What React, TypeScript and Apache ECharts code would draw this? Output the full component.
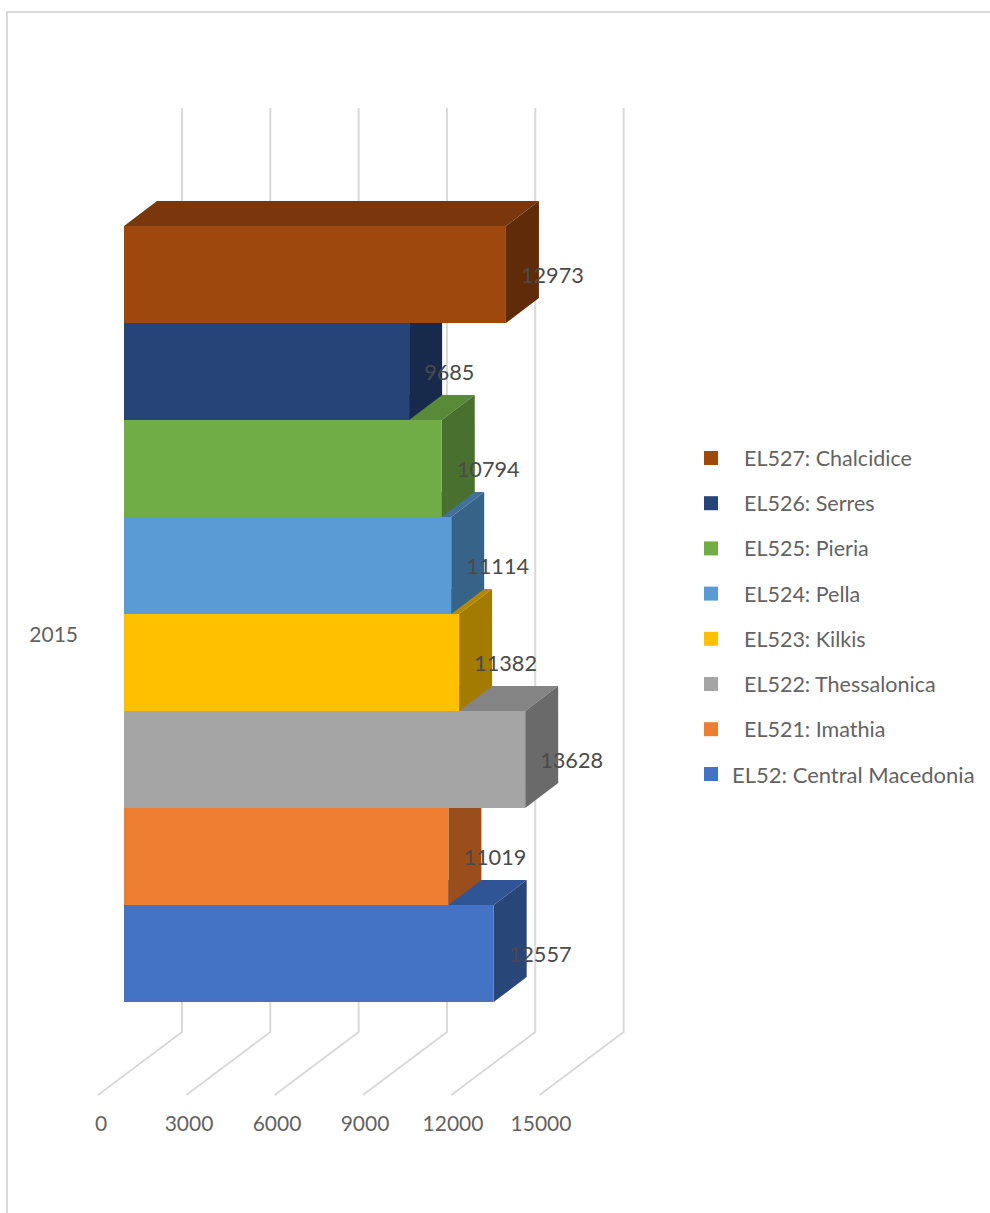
import React, { useEffect, useRef } from "react";
import * as echarts from "echarts";

const years = ["2015"];
const regions = [
  "EL52: Central Macedonia",
  "EL521: Imathia",
  "EL522: Thessalonica",
  "EL523: Kilkis",
  "EL524: Pella",
  "EL525: Pieria",
  "EL526: Serres",
  "EL527: Chalcidice",
];
const values = [12557, 11019, 13628, 11382, 11114, 10794, 9685, 12973];
const frontColors = ["#4472C4", "#ED7D31", "#A5A5A5", "#FFC000", "#5B9BD5", "#70AD47", "#264478", "#9E480E"];
const topColors = ["#2F5597", "#A9561F", "#848484", "#B48800", "#41719C", "#588A38", "#1E3660", "#7A370B"];
const sideColors = ["#294679", "#9A4E1C", "#6A6A6A", "#A27B00", "#376388", "#4A702F", "#172A4B", "#5F2B08"];
const ticks = [0, 3000, 6000, 9000, 12000, 15000];

const FONT = "Lato";
const DX = 33;
const DY = -25;

export default function App() {
  const ref = useRef<HTMLDivElement>(null);
  useEffect(() => {
    const chart = echarts.init(ref.current!, undefined, { renderer: "svg" });

    const barSeries = regions.map((name, i) => ({
      type: "custom",
      name,
      xAxisIndex: 0,
      yAxisIndex: 0,
      z: 3,
      clip: false,
      itemStyle: { color: frontColors[i] },
      encode: { x: 0, y: 1 },
      data: [[values[i], regions[i]]],
      renderItem: (_p: any, api: any) => {
        const v = api.value(0);
        const end = api.coord([v, i]);
        const start = api.coord([0, i]);
        const h = api.size([0, 1])[1];
        const x0 = start[0];
        const x1 = end[0];
        const yT = end[1] - h / 2;
        const yB = end[1] + h / 2;
        return {
          type: "group",
          children: [
            {
              type: "polygon",
              z2: 1,
              shape: { points: [[x0, yT], [x1, yT], [x1 + DX, yT + DY], [x0 + DX, yT + DY]] },
              style: { fill: topColors[i] },
            },
            {
              type: "polygon",
              z2: 1,
              shape: { points: [[x1, yT], [x1 + DX, yT + DY], [x1 + DX, yB + DY], [x1, yB]] },
              style: { fill: sideColors[i] },
            },
            {
              type: "rect",
              z2: 1,
              shape: { x: x0, y: yT, width: x1 - x0, height: h },
              style: { fill: frontColors[i] },
            },
            {
              type: "text",
              z2: 100,
              x: x1 + 15,
              y: end[1] + 0.5,
              style: {
                text: String(v),
                fill: "#4A4A4A",
                font: `21.7px ${FONT}`,
                align: "left",
                verticalAlign: "middle",
              },
            },
          ],
        };
      },
    }));

    const gridSeries = {
      type: "custom",
      name: "grid",
      xAxisIndex: 0,
      yAxisIndex: 0,
      z: 1,
      clip: false,
      silent: true,
      encode: { x: 0 },
      data: ticks.map((t) => [t, regions[0]]),
      renderItem: (_p: any, api: any) => {
        const x = api.coord([api.value(0), 0])[0];
        return {
          type: "polyline",
          shape: { points: [[x + 58, 108], [x + 58, 1032], [x - 26, 1095]] },
          style: { fill: "none", stroke: "#D9D9D9", lineWidth: 2 },
        };
      },
    };

    const legendBase = {
      orient: "vertical" as const,
      left: 699,
      icon: "rect",
      itemWidth: 14,
      itemHeight: 14,
      itemGap: 23.2,
    };

    chart.setOption({
      animation: false,
      backgroundColor: "#FFFFFF",
      graphic: [
        { type: "line", shape: { x1: 7, y1: 12, x2: 990, y2: 12 }, style: { stroke: "#D9D9D9", lineWidth: 2 } },
        { type: "line", shape: { x1: 7, y1: 11, x2: 7, y2: 1213 }, style: { stroke: "#D9D9D9", lineWidth: 2 } },
      ],
      legend: [
        {
          ...legendBase,
          top: 442,
          data: regions.slice(1).reverse(),
          textStyle: { fontFamily: FONT, fontSize: 21.5, color: "#636363", padding: [0, 0, 0, 21] },
        },
        {
          ...legendBase,
          top: 758,
          data: regions.slice(0, 1),
          textStyle: { fontFamily: FONT, fontSize: 22, color: "#636363", padding: [0, 0, 0, 9] },
        },
      ],
      grid: [
        { left: 124, top: 226, width: 441.6, height: 776 },
        { left: 101, top: 264, width: 440, height: 738 },
      ],
      xAxis: [
        { type: "value", gridIndex: 0, min: 0, max: 15000, interval: 3000, show: false },
        {
          type: "value",
          gridIndex: 1,
          min: 0,
          max: 15000,
          interval: 3000,
          splitLine: { show: false },
          axisLine: { show: false },
          axisTick: { show: false },
          axisLabel: { margin: 110, fontFamily: FONT, fontSize: 21, color: "#636363", formatter: (v: number) => String(v) },
        },
      ],
      yAxis: [
        { type: "category", gridIndex: 0, data: regions, show: false },
        {
          type: "category",
          gridIndex: 1,
          data: years,
          axisLine: { show: false },
          axisTick: { show: false },
          axisLabel: { margin: 23, fontFamily: FONT, fontSize: 21, color: "#636363" },
        },
      ],
      series: [gridSeries, ...barSeries],
    });
    return () => chart.dispose();
  }, []);
  return <div ref={ref} style={{ position: "absolute", left: 0, top: 0, width: 990, height: 1213 }} />;
}
